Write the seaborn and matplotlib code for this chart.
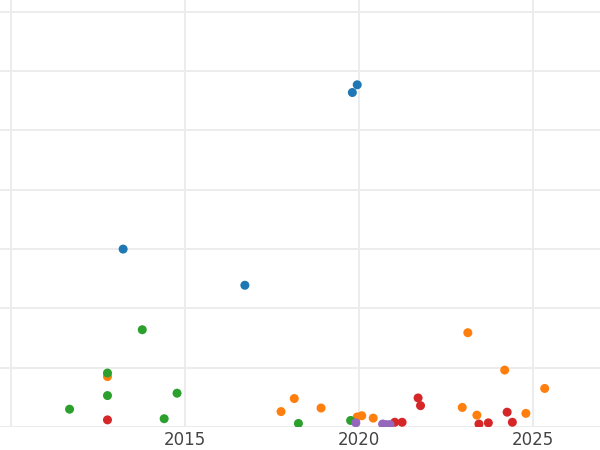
import pandas as pd
import seaborn as sns
import matplotlib.pyplot as plt

# Points per group: (year, value)
a_year = [2019.81, 2019.95, 2013.22, 2016.72]
a_value = [564, 577, 300, 239]

b_year = [2012.77, 2017.76, 2018.14, 2018.91, 2019.95, 2020.08, 2020.41,
          2022.97, 2023.13, 2023.39, 2024.19, 2024.80, 2025.34]
b_value = [85, 26, 48, 32, 17, 19, 15, 33, 159, 20, 96, 23, 65]

c_year = [2013.77, 2012.77, 2012.77, 2011.68, 2014.40, 2014.77, 2018.26, 2019.76]
c_value = [164, 91, 53, 30, 14, 57, 6, 11]

d_year = [2012.77, 2021.03, 2021.24, 2021.70, 2021.77, 2023.45, 2023.72,
          2024.26, 2024.41]
d_value = [12, 8, 8, 49, 36, 5, 7, 25, 8]

e_year = [2019.91, 2020.68, 2020.79, 2020.89]
e_value = [7, 5, 4, 4]

groups = ["A", "B", "C", "D", "E"]
years = [a_year, b_year, c_year, d_year, e_year]
values = [a_value, b_value, c_value, d_value, e_value]

rows = []
for g, ys, vs in zip(groups, years, values):
    for y, v in zip(ys, vs):
        rows.append({"year": y, "value": v, "group": g})
df = pd.DataFrame(rows)

sns.set_theme(style="whitegrid")
plt.rcParams["font.family"] = "DejaVu Sans"

fig = plt.figure(figsize=(6, 4.5), dpi=100)
ax = fig.add_axes([0, 1 - 427 / 450, 1, 427 / 450])

palette = dict(zip(groups, sns.color_palette("tab10", 5)))
sns.scatterplot(data=df, x="year", y="value", hue="group", palette=palette,
                s=42, linewidth=0, legend=False, ax=ax)

ax.set_xlim(2009.68, 2026.93)
ax.set_ylim(0, 720)
ax.set_xticks([2010, 2015, 2020, 2025])
ax.set_xticklabels(["", "2015", "2020", "2025"])
ax.set_yticks(range(0, 701, 100))
ax.set_yticklabels([])
ax.set_xlabel("")
ax.set_ylabel("")
ax.grid(True, color="#ebebeb", linewidth=1.3)
ax.tick_params(axis="x", length=0, pad=3, labelsize=12, labelcolor="#444444")
ax.tick_params(axis="y", length=0)
for s in ax.spines.values():
    s.set_visible(False)

fig.savefig("out.png", dpi=100, facecolor="white")
